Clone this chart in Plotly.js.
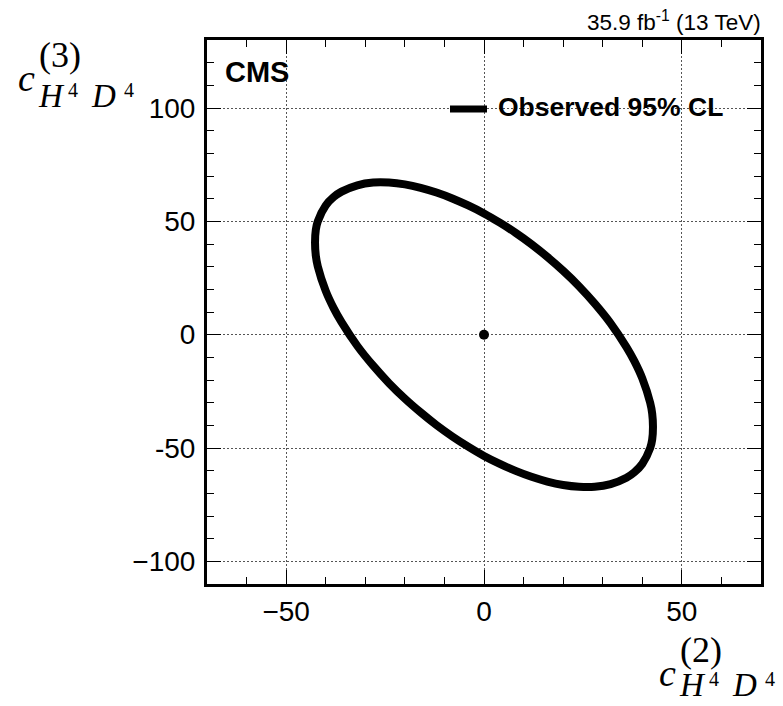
<!DOCTYPE html>
<html>
<head>
<meta charset="utf-8">
<script src="https://cdn.plot.ly/plotly-3.0.1.min.js"></script>
<style>html,body{margin:0;padding:0;background:#fff;}#chart{width:783px;height:706px;}</style>
</head>
<body>
<div id="chart"></div>
<script>
// Observed 95% CL contour (c^(2), c^(3)): upper arc left->right, then lower arc right->left
var contourX = [-42.7, -42.5, -42, -40, -38, -36, -32, -28, -24, -20, -16, -12, -8, -4, 0, 4, 8, 12, 16, 20, 24, 28, 32, 36, 38, 40, 42, 42.5,
                42.7, 42.5, 42, 40, 38, 36, 32, 28, 24, 20, 16, 12, 8, 4, 0, -4, -8, -12, -16, -20, -24, -28, -32, -36, -38, -40, -42, -42.5, -42.7];
var contourY = [40.7, 46.3, 50.0, 57.0, 60.7, 63.1, 65.9, 67.1, 67.1, 66.3, 64.8, 62.7, 60.1, 57.0, 53.5, 49.4, 44.9, 39.9, 34.3, 28.2, 21.4, 13.7, 5.0, -5.5, -11.7, -19.3, -30.1, -34.8,
                -40.7, -46.3, -50.0, -57.0, -60.7, -63.1, -65.9, -67.1, -67.1, -66.3, -64.8, -62.7, -60.1, -57.0, -53.5, -49.4, -44.9, -39.9, -34.3, -28.2, -21.4, -13.7, -5.0, 5.5, 11.7, 19.3, 30.1, 34.8, 40.7];
// SM point
var smX = [0];
var smY = [0];
// ticks
var xTickVals = [-50, 0, 50];
var xTickText = ['\u221250', '0', '50'];
var yTickVals = [-100, -50, 0, 50, 100];
var yTickText = ['\u2212100', '-50', '0', '50', '100'];
var legendLabel = 'Observed 95% CL';
var lumiLabel = '35.9 fb<sup>-1</sup> (13 TeV)';
var cmsLabel = 'CMS';

var L = 207, T = 40, W = 554, H = 544;
function px(x){ return (x - L) / W; }
function py(y){ return (T + H - y) / H; }

var sans = 'Liberation Sans, Arial, Helvetica, sans-serif';
var serif = 'Liberation Serif, Times New Roman, serif';

var traces = [
  {x: contourX, y: contourY, type: 'scatter', mode: 'lines',
   line: {color: '#000', width: 8, shape: 'spline', smoothing: 1}, showlegend: false, hoverinfo: 'skip'},
  {x: smX, y: smY, type: 'scatter', mode: 'markers',
   marker: {color: '#000', size: 10}, showlegend: false, hoverinfo: 'skip'}
];

function piece(text, cx, cy, size, anchor){
  return {xref: 'paper', yref: 'paper', x: px(cx), y: py(cy), text: text,
    showarrow: false, xanchor: anchor || 'center', yanchor: 'middle',
    font: {family: serif, size: size, color: '#000'}};
}
function titlePieces(dx, dy, dySub, paren){
  return [
    piece('<i>c</i>', 26 + dx, 78 + dy, 38),
    piece(paren, 60 + dx, 55 + dy, 36),
    piece('<i>H</i>', 51 + dx, 96 + dySub, 33),
    piece('4', 73 + dx, 90 + dySub, 20),
    piece('<i>D</i>', 103 + dx, 96 + dySub, 33),
    piece('4', 129 + dx, 90 + dySub, 20)
  ];
}

var annotations = [
  {xref: 'paper', yref: 'paper', x: px(223), y: py(72), text: '<b>' + cmsLabel + '</b>', showarrow: false,
   xanchor: 'left', yanchor: 'middle', font: {family: sans, size: 29, color: '#000'}},
  {xref: 'paper', yref: 'paper', x: px(496), y: py(107), text: '<b>' + legendLabel + '</b>', showarrow: false,
   xanchor: 'left', yanchor: 'middle', font: {family: sans, size: 26.5, color: '#000'}},
  {xref: 'paper', yref: 'paper', x: px(763), y: py(21), text: lumiLabel, showarrow: false,
   xanchor: 'right', yanchor: 'middle', font: {family: sans, size: 22.5, color: '#000'}}
].concat(titlePieces(0, 0, 0, '(3)')).concat(titlePieces(641, 595, 589, '(2)'));

var axisCommon = {
  showline: true, linecolor: '#000', linewidth: 3, mirror: 'ticks',
  ticks: 'inside', ticklen: 14, tickwidth: 1, tickcolor: '#000',
  showgrid: true, gridcolor: '#555', gridwidth: 1, griddash: '2px,2px',
  zeroline: false, tickmode: 'array',
  tickfont: {family: sans, size: 28, color: '#000'},
  minor: {dtick: 10, ticks: 'inside', ticklen: 7, tickwidth: 1, tickcolor: '#000', showgrid: false}
};

var layout = {
  width: 783, height: 706,
  margin: {l: L, r: 783 - L - W, t: T, b: 706 - T - H, pad: 0},
  paper_bgcolor: '#fff', plot_bgcolor: '#fff',
  showlegend: false,
  xaxis: Object.assign({}, axisCommon, {range: [-70, 70], tickvals: xTickVals, ticktext: xTickText, ticklabelstandoff: 0}),
  yaxis: Object.assign({}, axisCommon, {range: [-110, 130], tickvals: yTickVals, ticktext: yTickText, ticklabelstandoff: 3}),
  shapes: [
    {type: 'line', xref: 'paper', yref: 'paper', x0: px(450), x1: px(487), y0: py(109), y1: py(109),
     line: {color: '#000', width: 7}}
  ],
  annotations: annotations
};

Plotly.newPlot('chart', traces, layout, {staticPlot: true, displayModeBar: false});
</script>
</body>
</html>
